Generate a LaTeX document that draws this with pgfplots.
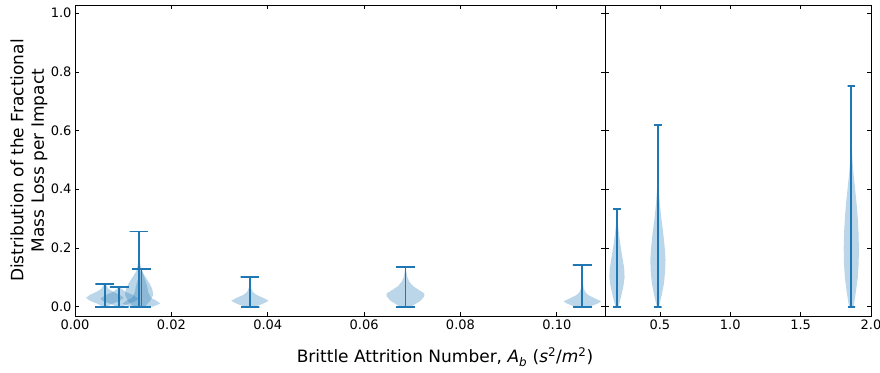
\documentclass[border=0pt]{standalone}
\usepackage{pgfplots}
\pgfplotsset{compat=1.18}
\usepackage{fontspec}
\setmainfont{DejaVu Sans}
\definecolor{mplblue}{HTML}{1F77B4}

\begin{document}
\begin{tikzpicture}[x=1pt,y=1pt]
\useasboundingbox (0,0) rectangle (880,372);
\pgfplotsset{
  vbody/.style={fill=mplblue, fill opacity=0.3, draw=none, forget plot, mark=none},
  vline/.style={draw=mplblue, line width=1.9pt, forget plot, mark=none},
  base/.style={scale only axis, height=311pt, ymin=-0.032, ymax=1.028,
    tick align=inside, major tick length=4pt,
    tick style={black, line width=0.7pt},
    axis line style={black, line width=0.8pt},
    ticklabel style={font=\fontsize{13}{15.6}\selectfont},
    ytick={0,0.2,0.4,0.6,0.8,1.0},
    scaled x ticks=false, scaled y ticks=false}
}
\begin{axis}[base, at={(75pt,56pt)}, anchor=south west, width=530pt,
  xmin=0, xmax=0.11,
  xtick={0,0.02,0.04,0.06,0.08,0.10},
  xticklabels={0.00,0.02,0.04,0.06,0.08,0.10},
  yticklabels={0.0,0.2,0.4,0.6,0.8,1.0}]
% bodies
\addplot[vbody] coordinates {(0.00659,0) (0.00776,0.01) (0.00932,0.02) (0.0101,0.03) (0.00932,0.04) (0.00796,0.05) (0.00698,0.06) (0.00659,0.07) (0.0064,0.077)
 (0.006,0.077) (0.00581,0.07) (0.00542,0.06) (0.00444,0.05) (0.00308,0.04) (0.0023,0.03) (0.00308,0.02) (0.00464,0.01) (0.00581,0)} -- cycle;
\addplot[vbody] coordinates {(0.00979,0) (0.01115,0.01) (0.01271,0.02) (0.0131,0.028) (0.01193,0.04) (0.01057,0.05) (0.00967,0.06) (0.0094,0.068)
 (0.009,0.068) (0.00873,0.06) (0.00784,0.05) (0.00647,0.04) (0.0053,0.028) (0.00569,0.02) (0.00725,0.01) (0.00862,0)} -- cycle;
\addplot[vbody] coordinates {(0.01447,0) (0.01564,0.02) (0.01623,0.04) (0.01603,0.06) (0.01545,0.08) (0.01467,0.1) (0.01389,0.12) (0.0135,0.15) (0.01338,0.2) (0.01334,0.256)
 (0.01326,0.256) (0.01322,0.2) (0.01311,0.15) (0.01272,0.12) (0.01194,0.1) (0.01116,0.08) (0.01057,0.06) (0.01038,0.04) (0.01096,0.02) (0.01213,0)} -- cycle;
\addplot[vbody] coordinates {(0.01614,0) (0.0177,0.01) (0.01692,0.02) (0.01575,0.03) (0.01517,0.05) (0.01497,0.07) (0.01458,0.09) (0.01419,0.11) (0.01392,0.129)
 (0.01368,0.129) (0.01341,0.11) (0.01302,0.09) (0.01263,0.07) (0.01244,0.05) (0.01185,0.03) (0.01068,0.02) (0.0099,0.01) (0.01146,0)} -- cycle;
\addplot[vbody] coordinates {(0.03747,0) (0.03903,0.01) (0.0402,0.02) (0.03903,0.03) (0.03767,0.04) (0.03689,0.05) (0.0365,0.065) (0.03638,0.08) (0.03634,0.101)
 (0.03626,0.101) (0.03622,0.08) (0.0361,0.065) (0.03572,0.05) (0.03494,0.04) (0.03357,0.03) (0.0324,0.02) (0.03357,0.01) (0.03513,0)} -- cycle;
\addplot[vbody] coordinates {(0.06977,0) (0.07075,0.01) (0.07172,0.02) (0.0725,0.035) (0.0725,0.045) (0.07153,0.055) (0.07016,0.07) (0.06938,0.085) (0.06899,0.1) (0.06876,0.12) (0.06864,0.134)
 (0.06856,0.134) (0.06844,0.12) (0.06821,0.1) (0.06782,0.085) (0.06704,0.07) (0.06568,0.055) (0.0647,0.045) (0.0647,0.035) (0.06548,0.02) (0.06646,0.01) (0.06743,0)} -- cycle;
\addplot[vbody] coordinates {(0.10686,0) (0.10842,0.01) (0.1092,0.018) (0.10764,0.03) (0.10647,0.04) (0.10589,0.05) (0.10561,0.06) (0.10542,0.08) (0.10538,0.1) (0.10534,0.141)
 (0.10526,0.141) (0.10522,0.1) (0.10518,0.08) (0.10499,0.06) (0.10472,0.05) (0.10413,0.04) (0.10296,0.03) (0.1014,0.018) (0.10218,0.01) (0.10374,0)} -- cycle;
% lines
\addplot[vline] coordinates {(0.00425,0) (0.00815,0) (0.0062,0) (0.0062,0.077) (0.00425,0.077) (0.00815,0.077)};
\addplot[vline] coordinates {(0.00725,0) (0.01115,0) (0.0092,0) (0.0092,0.068) (0.00725,0.068) (0.01115,0.068)};
\addplot[vline] coordinates {(0.01135,0) (0.01525,0) (0.0133,0) (0.0133,0.256) (0.01135,0.256) (0.01525,0.256)};
\addplot[vline] coordinates {(0.01185,0) (0.01575,0) (0.0138,0) (0.0138,0.129) (0.01185,0.129) (0.01575,0.129)};
\addplot[vline] coordinates {(0.03435,0) (0.03825,0) (0.0363,0) (0.0363,0.101) (0.03435,0.101) (0.03825,0.101)};
\addplot[vline] coordinates {(0.06665,0) (0.07055,0) (0.0686,0) (0.0686,0.134) (0.06665,0.134) (0.07055,0.134)};
\addplot[vline] coordinates {(0.10335,0) (0.10725,0) (0.1053,0) (0.1053,0.141) (0.10335,0.141) (0.10725,0.141)};
\end{axis}

\begin{axis}[base, at={(605pt,56pt)}, anchor=south west, width=266pt,
  xmin=0.11, xmax=2.0,
  xtick={0.5,1.0,1.5,2.0},
  xticklabels={0.5,1.0,1.5,2.0},
  yticklabels={}]
\addplot[vbody] coordinates {(0.2058,0) (0.222,0.03) (0.2409,0.07) (0.249,0.1) (0.2463,0.13) (0.2328,0.17) (0.2193,0.21) (0.2085,0.25) (0.2004,0.29) (0.1966,0.332)
 (0.1934,0.332) (0.1896,0.29) (0.1815,0.25) (0.1707,0.21) (0.1572,0.17) (0.1437,0.13) (0.141,0.1) (0.1491,0.07) (0.168,0.03) (0.1842,0)} -- cycle;
\addplot[vbody] coordinates {(0.4941,0) (0.513,0.04) (0.5292,0.08) (0.5373,0.12) (0.54,0.16) (0.5346,0.2) (0.5238,0.25) (0.5103,0.3) (0.4995,0.35) (0.4925,0.4) (0.4887,0.45) (0.4871,0.5) (0.4865,0.619)
 (0.4855,0.619) (0.4849,0.5) (0.4833,0.45) (0.4795,0.4) (0.4725,0.35) (0.4617,0.3) (0.4482,0.25) (0.4374,0.2) (0.432,0.16) (0.4347,0.12) (0.4428,0.08) (0.459,0.04) (0.4779,0)} -- cycle;
\addplot[vbody] coordinates {(1.8762,0) (1.8924,0.05) (1.9059,0.1) (1.9124,0.15) (1.914,0.2) (1.9113,0.25) (1.9059,0.3) (1.8978,0.35) (1.887,0.4) (1.8762,0.45) (1.8681,0.5) (1.8638,0.55) (1.8616,0.6) (1.8605,0.7) (1.8603,0.753)
 (1.8597,0.753) (1.8595,0.7) (1.8584,0.6) (1.8562,0.55) (1.8519,0.5) (1.8438,0.45) (1.833,0.4) (1.8222,0.35) (1.8141,0.3) (1.8087,0.25) (1.806,0.2) (1.8076,0.15) (1.8141,0.1) (1.8276,0.05) (1.8438,0)} -- cycle;
\addplot[vline] coordinates {(0.168,0) (0.222,0) (0.195,0) (0.195,0.332) (0.168,0.332) (0.222,0.332)};
\addplot[vline] coordinates {(0.459,0) (0.513,0) (0.486,0) (0.486,0.619) (0.459,0.619) (0.513,0.619)};
\addplot[vline] coordinates {(1.833,0) (1.887,0) (1.86,0) (1.86,0.753) (1.833,0.753) (1.887,0.753)};
\end{axis}

\node[font=\fontsize{17}{20.4}\selectfont] at (445,15) {Brittle Attrition Number, \textit{A}\textsubscript{\textit{b}} (\textit{s}\textsuperscript{2}/\textit{m}\textsuperscript{2})};
\node[rotate=90, align=center, font=\fontsize{17}{20.4}\selectfont] at (29,211.5) {Distribution of the Fractional\\Mass Loss per Impact};
\end{tikzpicture}
\end{document}
